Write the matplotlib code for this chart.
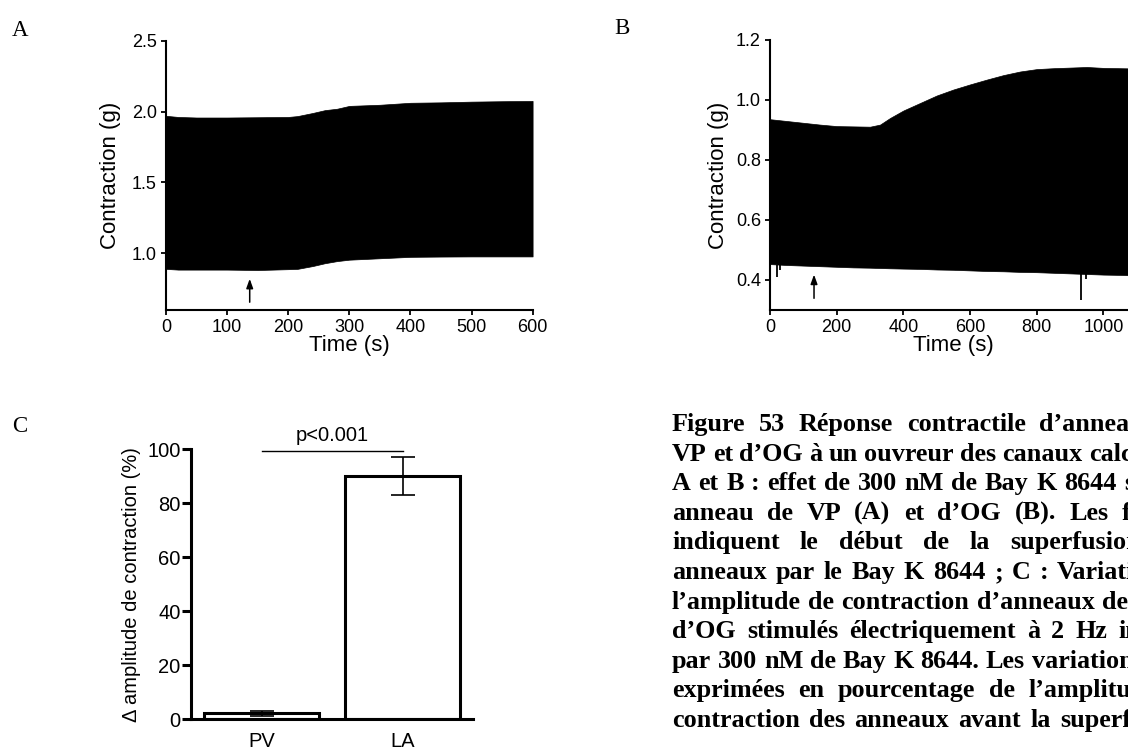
import numpy as np
import matplotlib
matplotlib.use('Agg')
import matplotlib.pyplot as plt
from matplotlib.font_manager import FontProperties
from matplotlib.transforms import IdentityTransform

W, H = 1128, 747

# ---------------------------------------------------------------------------
# Data
# ---------------------------------------------------------------------------

# Panel A: envelope of the 2 Hz contraction trace (PV ring)
a_time = [0, 20, 50, 100, 150, 200, 215, 240, 260, 280, 300, 350, 400, 450, 500, 550, 600]
a_upper = [1.97, 1.962, 1.958, 1.958, 1.96, 1.962, 1.968, 1.99, 2.01, 2.02, 2.04,
           2.048, 2.062, 2.065, 2.07, 2.073, 2.075]
a_lower = [0.89, 0.885, 0.885, 0.885, 0.882, 0.888, 0.89, 0.91, 0.93, 0.945, 0.955,
           0.965, 0.975, 0.977, 0.978, 0.978, 0.978]
a_arrow_t = 137

# Panel B: envelope of the trace (LA ring)
b_time = [0, 50, 100, 150, 200, 250, 300, 330, 360, 400, 450, 500, 550, 600, 650,
          700, 750, 800, 850, 900, 950, 1000, 1050, 1100, 1150]
b_upper = [0.936, 0.93, 0.924, 0.918, 0.913, 0.912, 0.911, 0.918, 0.94, 0.965, 0.99,
           1.015, 1.035, 1.052, 1.068, 1.083, 1.095, 1.103, 1.106, 1.108, 1.11,
           1.107, 1.106, 1.105, 1.104]
b_lower = [0.453, 0.45, 0.448, 0.446, 0.444, 0.442, 0.441, 0.44, 0.439, 0.438, 0.437,
           0.435, 0.434, 0.432, 0.43, 0.429, 0.427, 0.426, 0.424, 0.422, 0.42,
           0.418, 0.417, 0.415, 0.414]
b_spike_t = [22, 30, 934, 949]
b_spike_min = [0.411, 0.433, 0.333, 0.405]
b_arrow_t = 132

# Panel C: change in contraction amplitude
c_groups = ['PV', 'LA']
c_mean = [2.2, 90.2]
c_sem = [1.0, 7.1]
c_pvalue = 'p<0.001'

caption_lines = [
    'Figure 53 Réponse contractile d’anneaux de',
    'VP et d’OG à un ouvreur des canaux calciques.',
    'A et B : effet de 300 nM de Bay K 8644 sur un',
    'anneau de VP (A) et d’OG (B). Les flèches',
    'indiquent le début de la superfusion des',
    'anneaux par le Bay K 8644 ; C : Variation de',
    'l’amplitude de contraction d’anneaux de VP et',
    'd’OG stimulés électriquement à 2 Hz induite',
    'par 300 nM de Bay K 8644. Les variations sont',
    'exprimées en pourcentage de l’amplitude de',
    'contraction des anneaux avant la superfusion.',
]

plt.rcParams['font.family'] = ['Liberation Sans', 'DejaVu Sans']


def px_axes(fig, left, top, right, bottom):
    """Add axes given pixel edges (origin top-left)."""
    return fig.add_axes([left / W, (H - bottom) / H, (right - left) / W, (bottom - top) / H])


def trace_style(ax):
    for s in ('top', 'right'):
        ax.spines[s].set_visible(False)
    for s in ('left', 'bottom'):
        ax.spines[s].set_linewidth(1.5)
    ax.tick_params(direction='out', length=3.5, width=1.3, labelsize=13, pad=3)


def arrow(ax, t, y0, y1):
    ax.annotate('', xy=(t, y1), xytext=(t, y0),
                arrowprops=dict(arrowstyle='-|>,head_length=0.55,head_width=0.2',
                                color='black', lw=1.1, shrinkA=0, shrinkB=0))


fig = plt.figure(figsize=(W / 100, H / 100), dpi=100)

# ---------------------------------------------------------------------------
# Panel A
# ---------------------------------------------------------------------------
ax = px_axes(fig, 166, 40.7, 532.6, 310)
ax.fill_between(a_time, a_lower, a_upper, color='black', lw=0.5, edgecolor='black')
arrow(ax, a_arrow_t, 0.655, 0.82)
ax.set_xlim(0, 600)
ax.set_ylim(0.6, 2.5)
ax.set_xticks(range(0, 601, 100))
ax.set_yticks([1.0, 1.5, 2.0, 2.5])
ax.yaxis.set_major_formatter(matplotlib.ticker.FormatStrFormatter('%.1f'))
trace_style(ax)
ax.set_xlabel('Time (s)', fontsize=16)
ax.set_ylabel('Contraction (g)', fontsize=16)
ax.yaxis.set_label_coords((121 - 166) / 366.6, 0.5)
ax.xaxis.set_label_coords(0.5, (310 - 335) / 269.3)

# ---------------------------------------------------------------------------
# Panel B
# ---------------------------------------------------------------------------
ax = px_axes(fig, 770, 40, 770 + 1100 * 0.3335, 310)
ax.fill_between(b_time, b_lower, b_upper, color='black', lw=0.5, edgecolor='black')
ax.vlines(b_spike_t, b_spike_min, [0.45] * len(b_spike_t), color='black', lw=1.3)
arrow(ax, b_arrow_t, 0.339, 0.418)
ax.set_xlim(0, 1100)
ax.set_ylim(0.3, 1.2)
ax.set_xticks(range(0, 1001, 200))
ax.set_yticks([0.4, 0.6, 0.8, 1.0, 1.2])
ax.yaxis.set_major_formatter(matplotlib.ticker.FormatStrFormatter('%.1f'))
trace_style(ax)
ax.set_xlabel('Time (s)', fontsize=16)
ax.set_ylabel('Contraction (g)', fontsize=16)
ax.yaxis.set_label_coords((729 - 770) / 366.9, 0.5)
ax.xaxis.set_label_coords(0.5, (310 - 335) / 270)

# ---------------------------------------------------------------------------
# Panel C
# ---------------------------------------------------------------------------
ax = px_axes(fig, 191, 449.3, 473, 719.3)
x = np.arange(len(c_groups))
ax.bar(x, c_mean, width=0.81, facecolor='white', edgecolor='black', linewidth=2.2, zorder=2)
ax.errorbar(x, c_mean, yerr=c_sem, fmt='none', ecolor='black', elinewidth=1.2,
            capsize=8.5, capthick=1.2, zorder=3)
ax.plot([0, 1], [99.5, 99.5], color='black', lw=1.0, clip_on=False)
ax.text(0.5, 101.5, c_pvalue, ha='center', va='bottom', fontsize=14.5)
ax.set_xlim(-0.5, 1.5)
ax.set_ylim(0, 100)
ax.set_yticks(range(0, 101, 20))
ax.set_xticks(x)
ax.set_xticklabels(c_groups)
for s in ('top', 'right'):
    ax.spines[s].set_visible(False)
for s in ('left', 'bottom'):
    ax.spines[s].set_linewidth(2.2)
ax.tick_params(axis='y', direction='out', length=6.5, width=2.2, labelsize=14.5, pad=1)
ax.tick_params(axis='x', length=0, labelsize=14.5, pad=9)
ax.set_ylabel('Δ amplitude de contraction (%)', fontsize=14.5)
ax.yaxis.set_label_coords((141 - 191) / 282, 0.5)

# ---------------------------------------------------------------------------
# Panel letters and justified caption
# ---------------------------------------------------------------------------
letter_font = FontProperties(family='Liberation Serif', size=16.5)
for lab, lx, ly in [('A', 12, 30), ('B', 614, 29), ('C', 12, 427)]:
    fig.text(lx, H - ly, lab, fontproperties=letter_font, ha='left', va='center',
             transform=IdentityTransform())

cap_font = FontProperties(family='Liberation Serif', weight='bold', size=18.8)
renderer = fig.canvas.get_renderer()
x0, x1 = 672, 1197
for i, line in enumerate(caption_lines):
    yb = H - (431 + i * 29.6)
    words = line.split(' ')
    arts = [fig.text(0, yb, w, fontproperties=cap_font, ha='left', va='baseline',
                     transform=IdentityTransform()) for w in words]
    widths = [a.get_window_extent(renderer=renderer).width for a in arts]
    gap = (x1 - x0 - sum(widths)) / (len(words) - 1)
    xpos = x0
    for a, wd in zip(arts, widths):
        a.set_x(xpos)
        xpos += wd + gap

fig.savefig('out.png', dpi=100)
